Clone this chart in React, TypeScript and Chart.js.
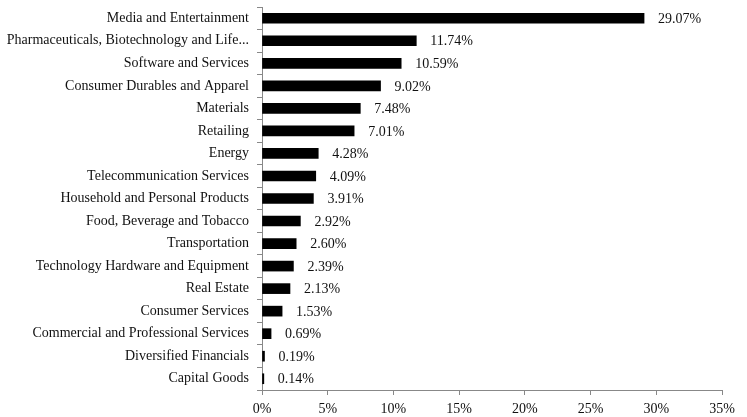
import React, { useEffect, useRef } from "react";
import { Chart, registerables } from "chart.js";

Chart.register(...registerables);

const categories = [
  "Media and Entertainment",
  "Pharmaceuticals, Biotechnology and Life...",
  "Software and Services",
  "Consumer Durables and Apparel",
  "Materials",
  "Retailing",
  "Energy",
  "Telecommunication Services",
  "Household and Personal Products",
  "Food, Beverage and Tobacco",
  "Transportation",
  "Technology Hardware and Equipment",
  "Real Estate",
  "Consumer Services",
  "Commercial and Professional Services",
  "Diversified Financials",
  "Capital Goods",
];

const values = [29.07, 11.74, 10.59, 9.02, 7.48, 7.01, 4.28, 4.09, 3.91, 2.92, 2.6, 2.39, 2.13, 1.53, 0.69, 0.19, 0.14];

const xTicks = [0, 5, 10, 15, 20, 25, 30, 35];

const FONT = "'Liberation Serif', 'DejaVu Serif', serif";

const valueLabels = {
  id: "valueLabels",
  afterDatasetsDraw(chart: any) {
    const ctx = chart.ctx;
    const meta = chart.getDatasetMeta(0);
    ctx.save();
    ctx.font = `14px ${FONT}`;
    ctx.fillStyle = "#111";
    ctx.textAlign = "left";
    ctx.textBaseline = "middle";
    meta.data.forEach((bar: any, i: number) => {
      ctx.fillText(values[i].toFixed(2) + "%", bar.x + 14, bar.y + 1);
    });
    ctx.restore();
  },
};

export default function App() {
  const ref = useRef<HTMLCanvasElement | null>(null);
  useEffect(() => {
    if (!ref.current) return;
    const chart = new Chart(ref.current, {
      type: "bar",
      data: {
        labels: categories,
        datasets: [
          {
            data: values,
            backgroundColor: "#000",
            borderWidth: 0,
            barThickness: 10,
          },
        ],
      },
      options: {
        indexAxis: "y",
        animation: false,
        responsive: false,
        devicePixelRatio: 1,
        layout: { padding: { top: 7, right: 25, left: 0, bottom: 0 } },
        plugins: { legend: { display: false }, tooltip: { enabled: false } },
        scales: {
          x: {
            min: 0,
            max: 35,
            afterBuildTicks: (scale: any) => {
              scale.ticks = xTicks.map((v) => ({ value: v }));
            },
            ticks: {
              callback: (v: any) => v + "%",
              color: "#111",
              font: { family: FONT, size: 14 },
              padding: 6,
              maxRotation: 0,
            },
            grid: { drawOnChartArea: false, tickLength: 5, color: "#888" },
            border: { color: "#888" },
            afterFit: (scale: any) => {
              scale.height = 27;
            },
          },
          y: {
            ticks: {
              color: "#111",
              font: { family: FONT, size: 14 },
              padding: 8,
              autoSkip: false,
            },
            grid: { drawOnChartArea: false, tickLength: 5, color: "#888", offset: true },
            border: { color: "#888" },
            afterFit: (scale: any) => {
              scale.width = 262;
              scale.paddingTop = 0;
              scale.paddingBottom = 0;
            },
          },
        },
      },
      plugins: [valueLabels],
    });
    return () => chart.destroy();
  }, []);
  return (
    <div style={{ position: "fixed", left: 0, top: 0, width: 747, height: 417, background: "#fff" }}>
      <canvas ref={ref} width={747} height={417} style={{ width: 747, height: 417 }} />
    </div>
  );
}
